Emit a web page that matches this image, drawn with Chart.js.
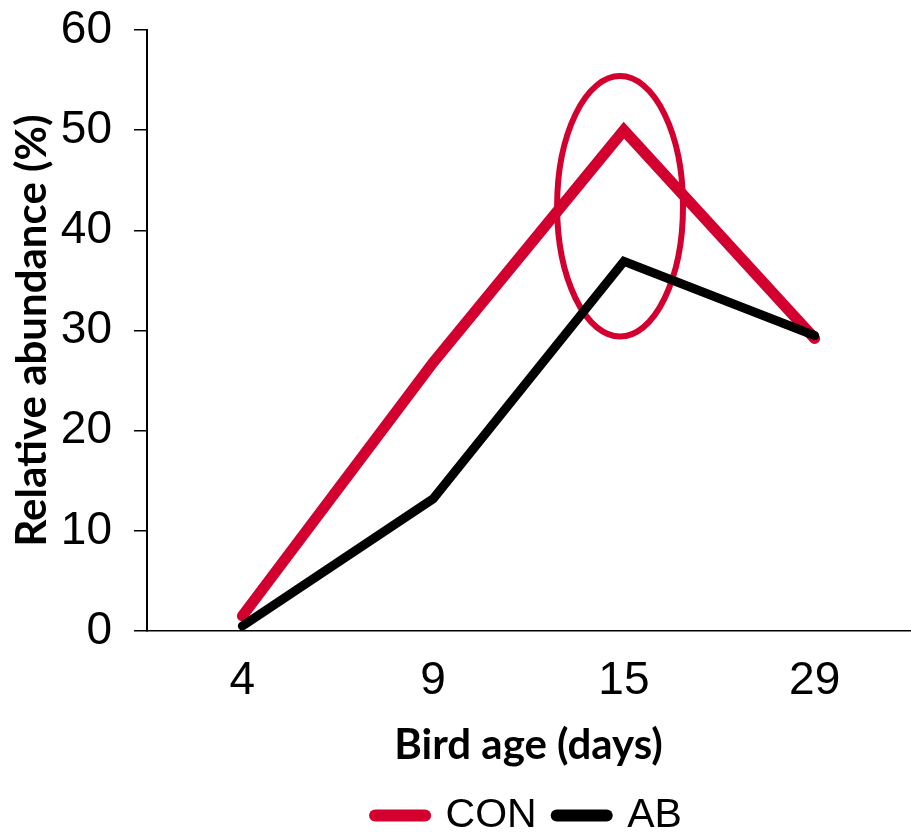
<!DOCTYPE html>
<html>
<head>
<meta charset="utf-8">
<script src="https://cdn.jsdelivr.net/npm/chart.js@4.4.1/dist/chart.umd.min.js"></script>
<style>
  html, body { margin: 0; padding: 0; background: #fff; }
  #wrap { width: 911px; height: 832px; position: relative; }
</style>
</head>
<body>
<div id="wrap"><canvas id="chart"></canvas></div>
<script>
// Bird age (days) vs relative abundance (%)
const ageLabels = ['4', '9', '15', '29'];
const conValues = [1.5, 26.8, 50.0, 29.2];
const abValues = [0.5, 13.2, 36.9, 29.5];
const yTicks = { min: 0, max: 60, step: 10 };

// circled peak, in data units (category index, value)
const highlight = { x: 1.98, y: 42.4, rx: 0.33, ry: 13 };

const RED = '#d3002f';
const BLACK = '#000000';
const tickFont = { family: "'Liberation Sans', Arial, sans-serif", size: 46 };
const legendFont = { family: "'Liberation Sans', Arial, sans-serif", size: 41 };
const titleFont = { family: "Lato, 'Open Sans', sans-serif", size: 42, weight: 'bold' };

const ellipsePlugin = {
  id: 'ellipse',
  beforeDatasetsDraw(chart) {
    const { ctx, scales: { x, y } } = chart;
    const cx = x.getPixelForValue(highlight.x);
    const cy = y.getPixelForValue(highlight.y);
    const rx = x.getPixelForValue(highlight.x + highlight.rx) - cx;
    const ry = y.getPixelForValue(highlight.y - highlight.ry) - cy;
    ctx.save();
    ctx.beginPath();
    ctx.ellipse(cx, cy, rx, ry, 0, 0, Math.PI * 2);
    ctx.lineWidth = 6;
    ctx.strokeStyle = RED;
    ctx.stroke();
    ctx.restore();
  },
};

const baseLabels = Chart.defaults.plugins.legend.labels.generateLabels;

new Chart(document.getElementById('chart'), {
  type: 'line',
  data: {
    labels: ageLabels,
    datasets: [
      {
        label: 'CON',
        data: conValues,
        borderColor: RED,
        backgroundColor: RED,
        borderWidth: 11,
        borderCapStyle: 'round',
        borderJoinStyle: 'miter',
        pointRadius: 0,
        tension: 0,
        order: 1,
      },
      {
        label: 'AB',
        data: abValues,
        borderColor: BLACK,
        backgroundColor: BLACK,
        borderWidth: 9,
        borderCapStyle: 'round',
        borderJoinStyle: 'miter',
        pointRadius: 0,
        tension: 0,
        order: 0,
      },
    ],
  },
  options: {
    responsive: true,
    maintainAspectRatio: false,
    animation: false,
    layout: { padding: { top: 30, right: 1, left: 0, bottom: -14 } },
    plugins: {
      tooltip: { enabled: false },
      legend: {
        position: 'bottom',
        fullSize: false,
        labels: {
          usePointStyle: true,
          pointStyle: 'line',
          pointStyleWidth: 50,
          padding: 20,
          color: BLACK,
          font: legendFont,
          sort: (a, b) => a.datasetIndex - b.datasetIndex,
          generateLabels: (chart) => baseLabels(chart).map((l) => ({
            ...l,
            lineWidth: 12,
            lineCap: 'round',
          })),
        },
      },
    },
    scales: {
      x: {
        offset: true,
        grid: { display: false, drawTicks: false },
        border: { display: true, color: BLACK, width: 1.5 },
        ticks: { color: BLACK, font: tickFont, padding: 23, maxRotation: 0 },
        title: {
          display: true,
          text: 'Bird age (days)',
          color: BLACK,
          font: titleFont,
          padding: { top: 0, bottom: 4 },
        },
        afterFit: (s) => { s.height = 144; },
      },
      y: {
        min: yTicks.min,
        max: yTicks.max,
        grid: { drawOnChartArea: false, drawTicks: true, tickLength: 13, color: BLACK, lineWidth: 1.5 },
        border: { display: true, color: BLACK, width: 2 },
        ticks: { stepSize: yTicks.step, color: BLACK, font: tickFont, padding: 22 },
        title: {
          display: true,
          text: 'Relative abundance (%)',
          color: BLACK,
          font: titleFont,
          padding: { top: 7, bottom: 0 },
        },
        afterFit: (s) => {
          s.width = 147;
          s.paddingTop = 0;
          s.paddingBottom = 0;
        },
      },
    },
  },
  plugins: [ellipsePlugin],
});
</script>
</body>
</html>
